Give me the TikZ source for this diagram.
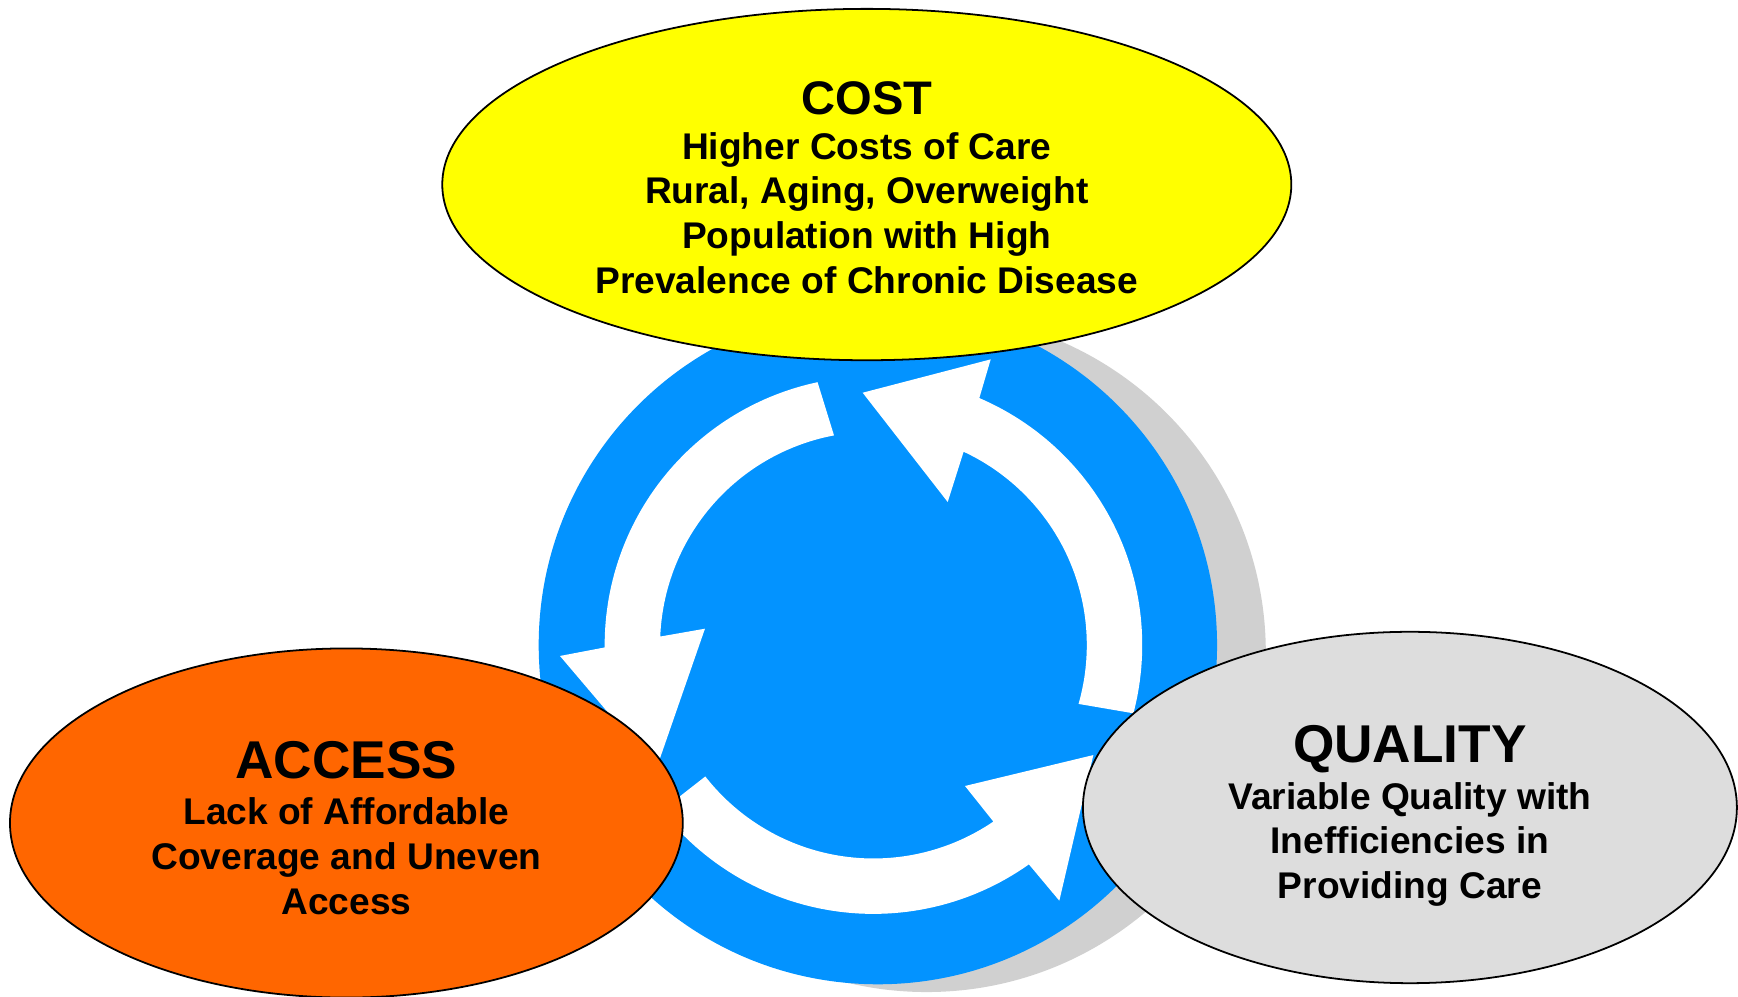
\documentclass[tikz,border=0pt]{standalone}
\usepackage{fontspec}
\setmainfont{Liberation Sans}
\usetikzlibrary{shapes.geometric}
\definecolor{ringblue}{RGB}{3,147,255}
\definecolor{shadowgray}{RGB}{208,208,208}
\definecolor{costyellow}{RGB}{255,255,0}
\definecolor{accessorange}{RGB}{255,102,0}
\definecolor{qualitygray}{RGB}{221,221,221}
\begin{document}
\begin{tikzpicture}[x=1pt,y=-1pt,
  bubble/.style={ellipse,draw=black,line width=1.6pt,inner sep=0pt,outer sep=0pt},
  arrowfill/.style={fill=white},
  bigtitle/.style={anchor=base,inner sep=0pt,font=\bfseries\fontsize{48}{48}\selectfont},
  costtitle/.style={anchor=base,inner sep=0pt,font=\bfseries\fontsize{42.5}{42.5}\selectfont},
  bodyline/.style={anchor=base,inner sep=0pt,font=\bfseries\fontsize{33.5}{40}\selectfont}]
\useasboundingbox (0,0) rectangle (1568,899);
\fill[white] (0,0) rectangle (1568,899);
% shadow and ring
\fill[shadowgray] (836,589) circle[radius=306];
\fill[ringblue] (792,582) circle[radius=306];
% arrow 1: top -> left
\fill[arrowfill] plot[domain=258:179.5,samples=60] ({788+242.5*cos(\x)},{582+242.5*sin(\x)})
  -- (505.2,591.8) -- (592,694) -- (636,567.2)
  -- plot[domain=182.3:259.35,samples=60] ({788+192.5*cos(\x)},{582+192.5*sin(\x)}) -- cycle;
% arrow 2: left -> right (bottom)
\fill[arrowfill] plot[domain=142:54.66,samples=60] ({788+242.5*cos(\x)},{582+242.5*sin(\x)})
  -- (955.7,812.6) -- (986.4,681.2) -- (870.6,709.1)
  -- plot[domain=55.8:142,samples=60] ({788+192.5*cos(\x)},{582+192.5*sin(\x)}) -- cycle;
% arrow 3: right -> top
\fill[arrowfill] plot[domain=14.7:-66.8,samples=60] ({788+242.5*cos(\x)},{582+242.5*sin(\x)})
  -- (893.8,324.2) -- (778.3,354.3) -- (855,452.9)
  -- plot[domain=-65:16,samples=60] ({788+192.5*cos(\x)},{582+192.5*sin(\x)}) -- cycle;
% ellipses
\node[bubble,fill=accessorange,minimum width=607pt,minimum height=315pt] (access) at (312.5,742.5) {};
\node[bubble,fill=qualitygray,minimum width=590pt,minimum height=317pt] (quality) at (1272,728.5) {};
\node[bubble,fill=costyellow,minimum width=766pt,minimum height=317pt] (cost) at (782,166.5) {};
% COST text
\node[costtitle] (costT) at (782,102.9) {COST};
\node[bodyline] (cost1) at (782,143.7) {Higher Costs of Care};
\node[bodyline] (cost2) at (782,184) {Rural, Aging, Overweight};
\node[bodyline] (cost3) at (782,224.3) {Population with High};
\node[bodyline] (cost4) at (782,264.6) {Prevalence of Chronic Disease};
% ACCESS text
\node[bigtitle] (accessT) at (312.5,702.2) {ACCESS};
\node[bodyline] (access1) at (312.5,744.2) {Lack of Affordable};
\node[bodyline] (access2) at (312.5,784.6) {Coverage and Uneven};
\node[bodyline] (access3) at (312.5,825) {Access};
% QUALITY text
\node[bigtitle] (qualityT) at (1272,688) {QUALITY};
\node[bodyline] (quality1) at (1272,730.2) {Variable Quality with};
\node[bodyline] (quality2) at (1272,770.3) {Inefficiencies in};
\node[bodyline] (quality3) at (1272,810.5) {Providing Care};
\end{tikzpicture}
\end{document}
